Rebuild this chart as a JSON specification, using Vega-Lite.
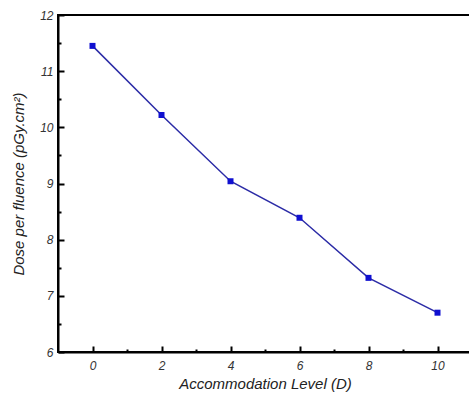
{
  "$schema": "https://vega.github.io/schema/vega-lite/v6.json",
  "width": 414,
  "height": 337,
  "autosize": "none",
  "padding": {"left": 58, "top": 15, "right": 0, "bottom": 49},
  "background": "white",
  "config": {
    "view": {"stroke": "black", "strokeWidth": 2},
    "font": "Liberation Sans",
    "axis": {
      "domainColor": "black",
      "domainWidth": 2,
      "tickColor": "black",
      "tickWidth": 2,
      "grid": false,
      "labelFont": "Liberation Sans",
      "labelFontStyle": "italic",
      "labelFontSize": 12,
      "labelColor": "#333333",
      "titleFont": "Liberation Sans",
      "titleFontStyle": "italic",
      "titleFontWeight": "normal",
      "titleFontSize": 15,
      "titleColor": "#222222"
    }
  },
  "data": {
    "values": [
      {"level": 0, "dose": 11.45},
      {"level": 2, "dose": 10.22},
      {"level": 4, "dose": 9.04},
      {"level": 6, "dose": 8.39},
      {"level": 8, "dose": 7.32},
      {"level": 10, "dose": 6.70}
    ]
  },
  "encoding": {
    "x": {
      "field": "level",
      "type": "quantitative",
      "scale": {"domain": [-1, 11], "nice": false, "zero": false},
      "axis": {
        "title": "Accommodation Level (D)",
        "values": [0, 1, 2, 3, 4, 5, 6, 7, 8, 9, 10],
        "format": "d",
        "labelExpr": "datum.value % 2 == 0 ? datum.label : ''",
        "tickSize": {"condition": {"test": "datum.value % 2 != 0", "value": -3}, "value": -6},
        "labelPadding": 14,
        "titlePadding": 5
      }
    },
    "y": {
      "field": "dose",
      "type": "quantitative",
      "scale": {"domain": [6, 12], "nice": false, "zero": false},
      "axis": {
        "title": "Dose per fluence (pGy.cm²)",
        "values": [6, 6.5, 7, 7.5, 8, 8.5, 9, 9.5, 10, 10.5, 11, 11.5, 12],
        "format": "~g",
        "labelExpr": "datum.value % 1 == 0 ? datum.label : ''",
        "tickSize": {"condition": {"test": "datum.value % 1 != 0", "value": -3}, "value": -6},
        "labelPadding": 11,
        "titlePadding": 13
      }
    }
  },
  "layer": [
    {"mark": {"type": "line", "color": "#2b2ba6", "strokeWidth": 1.5}},
    {"mark": {"type": "square", "color": "#1010d0", "filled": true, "opacity": 1, "size": 36}}
  ]
}
